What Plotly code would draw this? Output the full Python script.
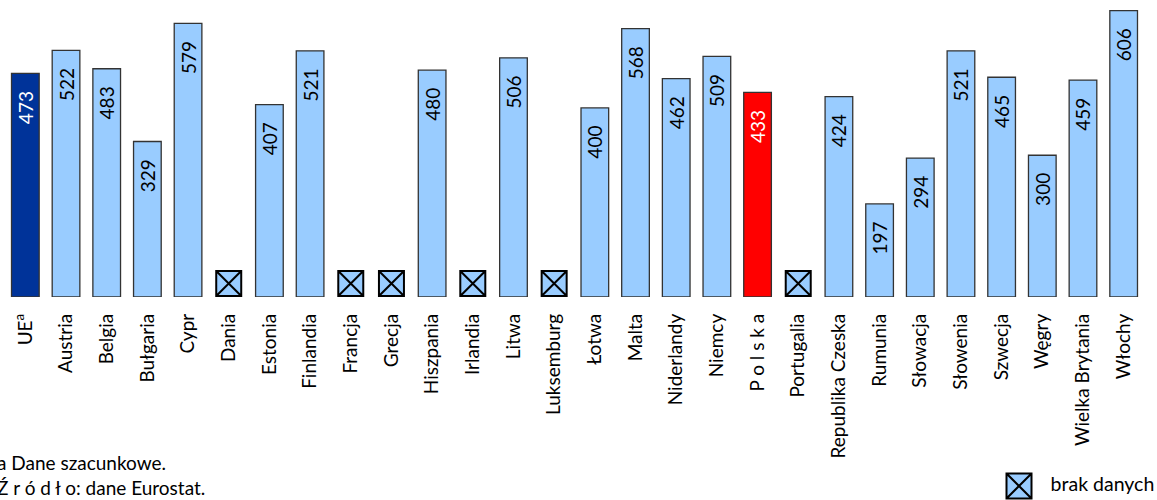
import plotly.graph_objects as go

categories = ["UE", "Austria", "Belgia", "Bułgaria", "Cypr", "Dania", "Estonia", "Finlandia",
              "Francja", "Grecja", "Hiszpania", "Irlandia", "Litwa", "Luksemburg", "Łotwa",
              "Malta", "Niderlandy", "Niemcy", "Polska", "Portugalia", "Republika Czeska",
              "Rumunia", "Słowacja", "Słowenia", "Szwecja", "Węgry", "Wielka Brytania", "Włochy"]
tick_labels = ["UE<sup>a</sup>", "Austria", "Belgia", "Bułgaria", "Cypr", "Dania", "Estonia", "Finlandia",
               "Francja", "Grecja", "Hiszpania", "Irlandia", "Litwa", "Luksemburg", "Łotwa",
               "Malta", "Niderlandy", "Niemcy", "P o l s k a", "Portugalia", "Republika Czeska",
               "Rumunia", "Słowacja", "Słowenia", "Szwecja", "Węgry", "Wielka Brytania", "Włochy"]
values = [473, 522, 483, 329, 579, None, 407, 521,
          None, None, 480, None, 506, None, 400,
          568, 462, 509, 433, None, 424,
          197, 294, 521, 465, 300, 459, 606]

footnote_1 = "a Dane szacunkowe."
footnote_2 = "Ź r ó d ł o: dane Eurostat."
legend_label = "brak danych"

LIGHT = "#99CCFF"
UE_COL = "#003399"
PL_COL = "#FF0000"
FONT = "Lato"

W, H = 1157, 500
M_L, M_R, M_T, M_B = 5, 13, 4, 0
BASELINE_PX = 297
Y_MAX = 620
plot_h = H - M_T - M_B
plot_w = W - M_L - M_R
y_dom0 = (H - M_B - BASELINE_PX) / plot_h
px_per_unit = (plot_h * (1 - y_dom0)) / Y_MAX
BOX = 25

colors, tcolors, texts = [], [], []
for c, v in zip(categories, values):
    if c == "UE":
        colors.append(UE_COL); tcolors.append("white")
    elif c == "Polska":
        colors.append(PL_COL); tcolors.append("white")
    else:
        colors.append(LIGHT); tcolors.append("black")
    texts.append("" if v is None else f"{v}\u00a0\u00a0\u00a0")

fig = go.Figure()
fig.add_trace(go.Bar(
    x=categories, y=values, marker=dict(color=colors, line=dict(color="#333333", width=1.3)),
    text=texts, textposition="inside", insidetextanchor="end", textangle=-90,
    insidetextfont=dict(family=FONT, size=19, color=tcolors),
    constraintext="none", showlegend=False, hoverinfo="skip"))

miss_x = [c for c, v in zip(categories, values) if v is None]
miss_y = [(BOX / 2 + 1) / px_per_unit for _ in miss_x]
fig.add_trace(go.Scatter(
    x=miss_x, y=miss_y, mode="markers", cliponaxis=False,
    marker=dict(symbol="square-x", size=BOX, color=LIGHT, line=dict(color="black", width=2)),
    showlegend=False, hoverinfo="skip"))

# legend key on an overlay axis spanning the whole plot area
fig.add_trace(go.Scatter(
    x=[(1019 - M_L) / plot_w], y=[(H - 486) / plot_h], xaxis="x2", yaxis="y2",
    mode="markers+text", text=["\u00a0\u00a0\u00a0" + legend_label], textposition="middle right",
    textfont=dict(family=FONT, size=19.5, color="black"), cliponaxis=False,
    marker=dict(symbol="square-x", size=BOX, color=LIGHT, line=dict(color="black", width=2)),
    showlegend=False, hoverinfo="skip"))

fig.update_layout(
    width=W, height=H, margin=dict(l=M_L, r=M_R, t=M_T, b=M_B),
    plot_bgcolor="rgba(0,0,0,0)", paper_bgcolor="white", bargap=0.32,
    font=dict(family=FONT, size=19, color="black"),
    xaxis=dict(type="category", categoryorder="array", categoryarray=categories,
               tickvals=categories, ticktext=tick_labels, tickangle=-90,
               tickfont=dict(family=FONT, size=19, color="black"), ticklabelstandoff=12,
               showline=False, showgrid=False, ticks="", anchor="y", zeroline=False),
    yaxis=dict(domain=[y_dom0, 1], range=[0, Y_MAX], visible=False, showgrid=False),
    xaxis2=dict(domain=[0, 1], range=[0, 1], visible=False, anchor="y2"),
    yaxis2=dict(domain=[0, 1], range=[0, 1], visible=False, anchor="x2"),
    annotations=[
        dict(text=footnote_1, xref="paper", yref="paper", x=(-5 - M_L) / plot_w, y=(H - 462) / plot_h,
             xanchor="left", yanchor="middle", showarrow=False, font=dict(family=FONT, size=19)),
        dict(text=footnote_2, xref="paper", yref="paper", x=(-5 - M_L) / plot_w, y=(H - 487) / plot_h,
             xanchor="left", yanchor="middle", showarrow=False, font=dict(family=FONT, size=19)),
    ],
)

fig.write_html("out.html", config={"displayModeBar": False},
               post_script="document.body.style.margin='0';document.body.style.overflow='hidden';")
